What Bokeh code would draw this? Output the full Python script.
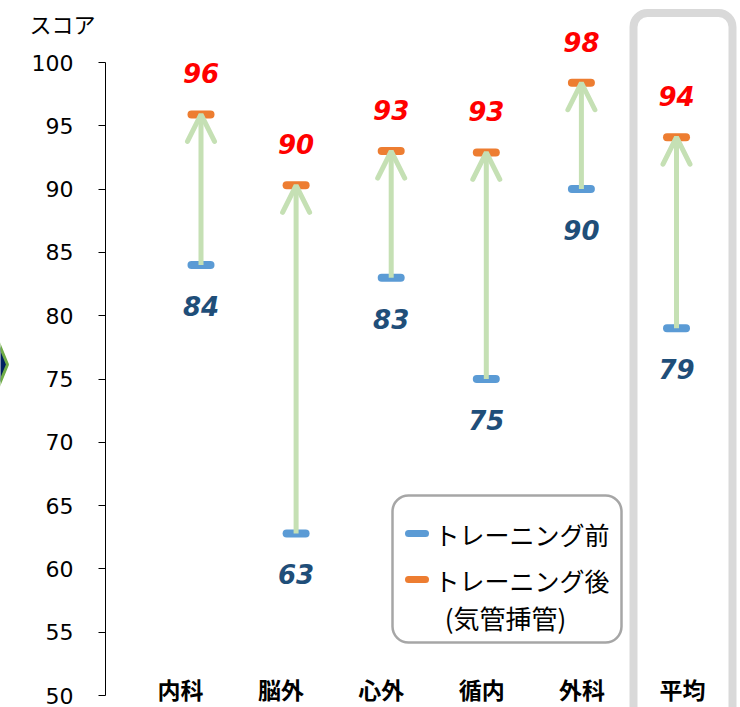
from bokeh.plotting import figure
from bokeh.models import (ColumnDataSource, Range1d, FixedTicker, Arrow, OpenHead,
                          BoxAnnotation)
from bokeh.core.properties import value
from bokeh.embed import file_html
from bokeh.resources import INLINE

# ---------------- data ----------------
categories = ["内科", "脳外", "心外", "循内", "外科", "平均"]
before = [84.0, 62.8, 83.0, 75.0, 90.0, 79.0]
after = [95.9, 90.3, 93.0, 92.9, 98.4, 94.1]
before_labels = ["84", "63", "83", "75", "90", "79"]
after_labels = ["96", "90", "93", "93", "98", "94"]
y_ticks = [50, 55, 60, 65, 70, 75, 80, 85, 90, 95, 100]
legend_labels = ["トレーニング前", "トレーニング後", "(気管挿管)"]
y_title = "スコア"

# ---------------- style ----------------
BLUE = "#5b9bd5"
ORANGE = "#ed7d31"
GREEN = "#c5e0b4"
RED = "#ff0000"
NAVY = "#1f4e79"
GRAY_BOX = "#d9d9d9"
JP = "Noto Sans CJK JP"
NUM = "DejaVu Sans"

W, H = 740, 707
X0, DX = 200.5, 95.1      # pixel x of first category, pixels per category
Y100, PXU = 62.0, 12.66   # pixel y of value 100, pixels per score unit


def px_x(px):
    return (px - X0) / DX


def px_y(py):
    return 100 - (py - Y100) / PXU


p = figure(width=W, height=H,
           x_range=Range1d(px_x(0), px_x(W)),
           y_range=Range1d(px_y(H), px_y(0)),
           x_axis_type=None, output_backend="svg", toolbar_location=None,
           min_border_left=0, min_border_right=0, min_border_top=0, min_border_bottom=0)
p.outline_line_color = None
p.grid.visible = False
p.background_fill_color = "white"

ax = p.yaxis[0]
ax.fixed_location = px_x(105)
ax.ticker = FixedTicker(ticks=y_ticks)
ax.bounds = (min(y_ticks), max(y_ticks))
ax.major_tick_out = 7
ax.major_tick_in = 0
ax.minor_tick_out = 0
ax.minor_tick_in = 0
ax.major_label_standoff = 25
ax.axis_line_color = "black"
ax.major_tick_line_color = "black"
ax.major_label_text_font = NUM
ax.major_label_text_font_size = "22px"
ax.major_label_text_color = "black"

xs = list(range(len(categories)))
hw = (27 - 8) / 2 / DX
src = ColumnDataSource(dict(
    x=xs,
    x0=[x - hw for x in xs],
    x1=[x + hw for x in xs],
    before=before,
    after=after,
    blab=before_labels,
    alab=after_labels,
    yb=[b - 41 / PXU for b in before],
    ya=[a + 41 / PXU for a in after],
))

# highlight box around average
p.add_layout(BoxAnnotation(left=px_x(633), right=px_x(732), top=px_y(12.5), bottom=px_y(780),
                           fill_color=None, fill_alpha=0, line_color=GRAY_BOX, line_alpha=1.0,
                           line_width=8, border_radius=14, level="underlay"))

# markers
p.segment(x0="x0", y0="before", x1="x1", y1="before", source=src,
          line_color=BLUE, line_width=8, line_cap="round")
p.segment(x0="x0", y0="after", x1="x1", y1="after", source=src,
          line_color=ORANGE, line_width=8, line_cap="round")

# arrows
p.add_layout(Arrow(end=OpenHead(size=27, line_color=GREEN, line_width=5, line_cap="round"),
                   x_start="x", y_start="before", x_end="x", y_end="after", source=src,
                   line_color=GREEN, line_width=5))

# value labels
p.text(x="x", y="ya", text="alab", source=src, text_font=value(NUM),
       text_font_style="bold italic", text_font_size="26px", text_color=RED,
       text_align="center", text_baseline="middle")
p.text(x="x", y="yb", text="blab", source=src, text_font=value(NUM),
       text_font_style="bold italic", text_font_size="26px", text_color=NAVY,
       text_align="center", text_baseline="middle")

# category labels
cat_x = [px_x(180 + 100.4 * i) for i in range(len(categories))]
p.text(x=cat_x, y=[px_y(688)] * len(categories), text=categories, text_font=value(JP),
       text_font_style="bold", text_font_size="23px", text_color="black",
       text_align="center", text_baseline="middle")

# legend
p.add_layout(BoxAnnotation(left=px_x(392), right=px_x(621), top=px_y(495), bottom=px_y(642),
                           fill_color="white", fill_alpha=1.0, line_color="#a6a6a6",
                           line_alpha=1.0, line_width=2.5, border_radius=16, level="underlay"))
p.segment(x0=[px_x(408)] * 2, x1=[px_x(425)] * 2, y0=[px_y(533), px_y(579)],
          y1=[px_y(533), px_y(579)], line_color=[BLUE, ORANGE], line_width=7, line_cap="round")
p.text(x=[px_x(434)] * 2, y=[px_y(533), px_y(579)], text=legend_labels[:2],
       text_font=value(JP), text_font_size="25px", text_color="black",
       text_align="left", text_baseline="middle")
p.text(x=[px_x(505)], y=[px_y(617)], text=legend_labels[2:],
       text_font=value(JP), text_font_size="26px", text_color="black",
       text_align="center", text_baseline="middle")

# y title
p.text(x=[px_x(29)], y=[px_y(22)], text=[y_title], text_font=value(JP),
       text_font_size="22px", text_color="black", text_align="left", text_baseline="middle")

# decorative diamond at left edge (mostly outside the picture)
p.patch(x=[px_x(7), px_x(-30), px_x(-67), px_x(-30)],
        y=[px_y(364), px_y(274), px_y(364), px_y(454)],
        fill_color="#002060", line_color="#70ad47", line_width=3)

open("out.html", "w").write(file_html(p, INLINE))
